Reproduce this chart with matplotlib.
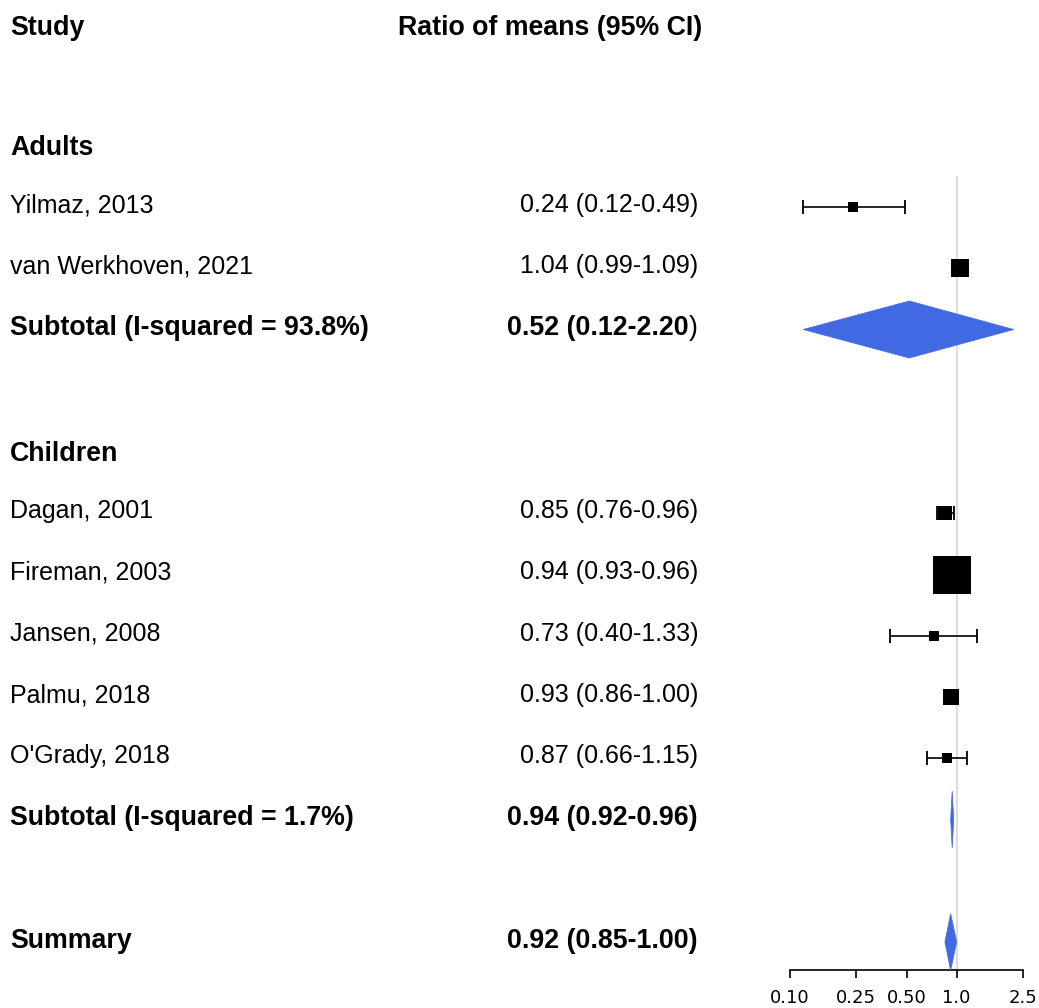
import matplotlib
matplotlib.use("Agg")
import matplotlib.pyplot as plt
import matplotlib.transforms as mtransforms
from matplotlib.patches import Polygon

# ---------------- data ----------------
studies = ["Yilmaz, 2013", "van Werkhoven, 2021", "Dagan, 2001", "Fireman, 2003",
           "Jansen, 2008", "Palmu, 2018", "O'Grady, 2018"]
study_rows = [3, 4, 8, 9, 10, 11, 12]
est = [0.24, 1.04, 0.85, 0.94, 0.73, 0.93, 0.87]
lo = [0.12, 0.99, 0.76, 0.93, 0.40, 0.86, 0.66]
hi = [0.49, 1.09, 0.96, 0.96, 1.33, 1.00, 1.15]
box_px = [11, 18, 14, 39, 10, 16, 11]          # study weight boxes (pixels)

groups = ["Adults", "Children"]
group_rows = [2, 7]

pooled_labels = ["Subtotal (I-squared = 93.8%)", "Subtotal (I-squared = 1.7%)", "Summary"]
pooled_rows = [5, 13, 15]
pooled_est = [0.52, 0.94, 0.92]
pooled_lo = [0.12, 0.92, 0.85]
pooled_hi = [2.20, 0.96, 1.00]

xticks = [0.10, 0.25, 0.50, 1.0, 2.5]
xticklabels = ["0.10", "0.25", "0.50", "1.0", "2.5"]

# ---------------- figure ----------------
W, H = 1039, 1008
fig = plt.figure(figsize=(W / 100, H / 100), dpi=100)
px = 1 / 61.25  # data units per pixel vertically

ax = fig.add_axes([790 / W, 38 / H, 233 / W, 970 / H])
ax.set_xscale("log")
ax.set_xlim(0.10, 2.5)
ybot = (970 - 23.25) / 61.25
ytop = -23.25 / 61.25
ax.set_ylim(ybot, ytop)
for s in ["top", "left", "right"]:
    ax.spines[s].set_visible(False)
ax.spines["bottom"].set_linewidth(1.2)
ax.set_yticks([])
ax.set_xticks(xticks)
ax.set_xticklabels(xticklabels, fontfamily="DejaVu Sans", fontsize=13)
ax.minorticks_off()
ax.tick_params(axis="x", length=6, width=1.2, pad=8, color="black")
ax.patch.set_alpha(0)

# reference line at 1
ax.vlines(1.0, (176 - 23.25) / 61.25, ybot, color="#d3d3d3", lw=1.1, zorder=1)

# studies
for r, e, l, h, b in zip(study_rows, est, lo, hi, box_px):
    ax.errorbar([e], [r], xerr=[[e - l], [h - e]], fmt="none", ecolor="black",
                elinewidth=1.2, capsize=4.7, capthick=1.3, zorder=2)
    ax.plot([e], [r], marker="s", markersize=b / 1.389, color="black",
            markeredgewidth=0, linestyle="none", zorder=3)

# pooled diamonds
hh = 28.5 * px
for r, e, l, h in zip(pooled_rows, pooled_est, pooled_lo, pooled_hi):
    poly = Polygon([(l, r), (e, r - hh), (h, r), (e, r + hh)], closed=True,
                   facecolor="#4169e1", edgecolor="#4169e1", lw=0.5, zorder=3)
    ax.add_patch(poly)

# ---------------- text ----------------
tr = mtransforms.blended_transform_factory(fig.transFigure, ax.transData)
FONT = "Liberation Sans"
x_left = 10 / W
x_right = 698 / W
REG = 18
BOLD = 19.3

fig.text(x_left, 0 + 11.5 * px, "Study", transform=tr, fontfamily=FONT,
         fontsize=BOLD, fontweight="bold", va="baseline", ha="left")
fig.text(702 / W, 0 + 11.5 * px, "Ratio of means (95% CI)", transform=tr,
         fontfamily=FONT, fontsize=BOLD, fontweight="bold", va="baseline", ha="right")

for g, r in zip(groups, group_rows):
    fig.text(x_left, r + 9 * px, g, transform=tr, fontfamily=FONT, fontsize=BOLD,
             fontweight="bold", va="baseline", ha="left")

for name, r, e, l, h in zip(studies, study_rows, est, lo, hi):
    fig.text(x_left, r + 5 * px, name, transform=tr, fontfamily=FONT,
             fontsize=REG, va="baseline", ha="left")
    fig.text(x_right, r + 5 * px, f"{e:.2f} ({l:.2f}-{h:.2f})", transform=tr,
             fontfamily=FONT, fontsize=REG, va="baseline", ha="right")

for i, (name, r, e, l, h) in enumerate(zip(pooled_labels, pooled_rows, pooled_est,
                                             pooled_lo, pooled_hi)):
    yb = r + 5.5 * px
    fig.text(x_left, yb, name, transform=tr, fontfamily=FONT, fontsize=BOLD,
             fontweight="bold", va="baseline", ha="left")
    s = f"{e:.2f} ({l:.2f}-{h:.2f})"
    if i == 0:
        # closing bracket in regular weight, as in the reference
        fig.text(x_right, yb, ")", transform=tr, fontfamily=FONT, fontsize=BOLD,
                 va="baseline", ha="right")
        fig.text(x_right - 9.5 / W, yb, s[:-1], transform=tr, fontfamily=FONT,
                 fontsize=BOLD, fontweight="bold", va="baseline", ha="right")
    else:
        fig.text(x_right, yb, s, transform=tr, fontfamily=FONT, fontsize=BOLD,
                 fontweight="bold", va="baseline", ha="right")

fig.savefig("out.png", dpi=100, facecolor="white")
